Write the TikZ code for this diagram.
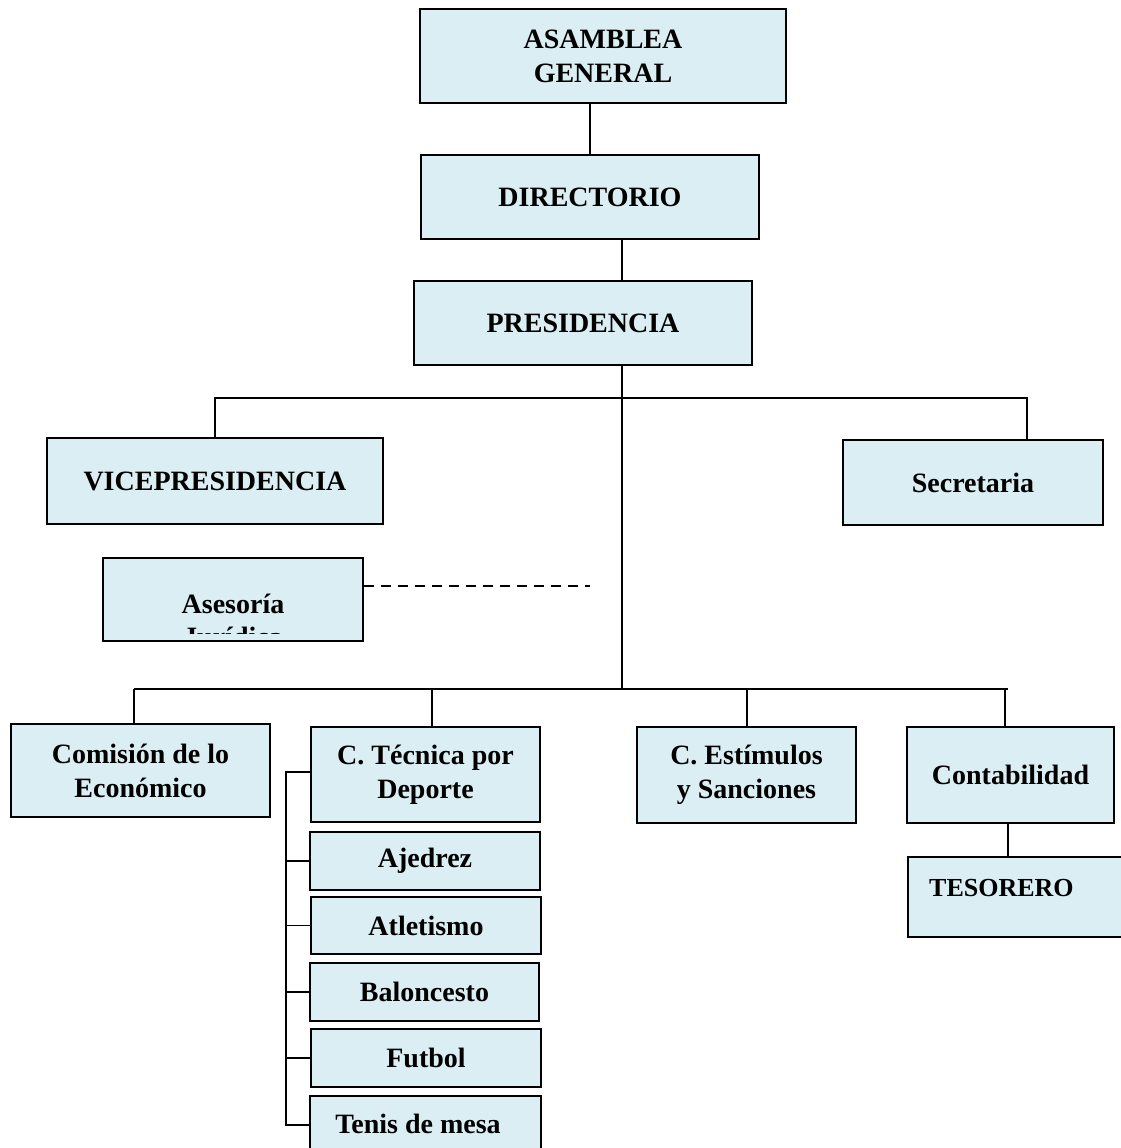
\documentclass[tikz,border=0pt]{standalone}
\usepackage{fontspec}
\setmainfont{Liberation Serif}
\definecolor{boxfill}{RGB}{218,238,243}
\begin{document}
\begin{tikzpicture}[x=1pt,y=-1pt,
  orgbox/.style={draw=black, fill=boxfill, line width=2pt, rectangle, inner sep=0pt,
     align=center, font=\fontsize{28}{34}\selectfont\bfseries},
  conn/.style={line width=1.8pt, black}]
\useasboundingbox (0,0) rectangle (1121,1148);
% top chain
\node[orgbox, minimum width=366, minimum height=94] (asm) at (603,56) {ASAMBLEA\\GENERAL};
\node[orgbox, minimum width=338, minimum height=84] (dir) at (590,197) {DIRECTORIO};
\node[orgbox, minimum width=338, minimum height=84] (pres) at (583,323) {PRESIDENCIA};
% second level
\node[orgbox, minimum width=336, minimum height=86] (vice) at (215,481) {VICEPRESIDENCIA};
\node[orgbox, minimum width=260, minimum height=85] (secr) at (973,482.5) {Secretaria};
% asesoria (text clipped inside the box)
\node[orgbox, minimum width=260, minimum height=83] (ase) at (233,599.5) {};
\coordinate (aseclip) at (0,633);
\begin{scope}
  \clip (ase.north west) rectangle (ase.east |- aseclip);
  \node[align=center, font=\fontsize{28}{33}\selectfont\bfseries, inner sep=0pt] (asetxt) at (233,620) {Asesoría\\Jurídica};
\end{scope}
% third level
\node[orgbox, minimum width=259, minimum height=93] (com) at (140.5,770.5) {Comisión de lo\\Económico};
\node[orgbox, minimum width=229, minimum height=95] (tec) at (425.5,774.5) {C. Técnica por\\Deporte};
\node[orgbox, minimum width=219, minimum height=96] (est) at (746.5,775) {C. Estímulos\\y Sanciones};
\node[orgbox, minimum width=207, minimum height=96] (cont) at (1010.5,775) {Contabilidad};
\node[orgbox, minimum width=222, minimum height=80] (tes) at (1019,897) {};
\node[font=\fontsize{26}{30}\selectfont\bfseries, inner sep=0pt, anchor=west] (testxt) at (929,888) {TESORERO};
% sports
\node[orgbox, minimum width=230, minimum height=58] (aje) at (425,861) {Ajedrez};
\node[orgbox, minimum width=230, minimum height=57] (atl) at (426,925.5) {Atletismo};
\node[orgbox, minimum width=229, minimum height=58] (bal) at (424.5,992) {Baloncesto};
\node[orgbox, minimum width=230, minimum height=58] (fut) at (426,1058) {Futbol};
\node[orgbox, minimum width=231, minimum height=58] (ten) at (425.5,1125) {};
\node[font=\fontsize{28}{34}\selectfont\bfseries, inner sep=0pt] (tentxt) at (418,1124) {Tenis de mesa};
% coordinates
\coordinate (trunk) at (622,689);
\coordinate (hv) at (622,398);
\coordinate (sd) at (1027,398);
\coordinate (dashend) at (590,586);
\coordinate (bl) at (134,689);
\coordinate (br) at (1008,689);
\coordinate (d2) at (432,689);
\coordinate (d3) at (747,689);
\coordinate (d4) at (1005,689);
\coordinate (td) at (1008,840);
\coordinate (bx) at (286,772);
% connectors
\draw[conn] (dir.north) -- (dir.north |- asm.south);
\draw[conn] (dir.south -| trunk) -- (pres.north -| trunk);
\draw[conn] (pres.south -| trunk) -- (trunk);
\draw[conn] (vice.north) |- (hv);
\draw[conn, line width=1.4pt] (hv) -- (sd) -- (sd |- secr.north);
\draw[conn, dashed, dash pattern=on 10pt off 7pt] (dashend -| ase.east) -- (dashend);
\draw[conn] (bl) -- (br);
\draw[conn] (bl) -- (bl |- com.north);
\draw[conn] (d2) -- (d2 |- tec.north);
\draw[conn] (d3) -- (d3 |- est.north);
\draw[conn] (d4) -- (d4 |- cont.north);
\draw[conn] (td |- cont.south) -- (td |- tes.north);
\draw[conn] (tec.west |- bx) -- (bx) -- (bx |- ten.west) -- (ten.west);
\draw[conn] (bx |- aje.west) -- (aje.west);
\draw[conn] (bx |- atl.west) -- (atl.west);
\draw[conn] (bx |- bal.west) -- (bal.west);
\draw[conn] (bx |- fut.west) -- (fut.west);
\end{tikzpicture}
\end{document}
